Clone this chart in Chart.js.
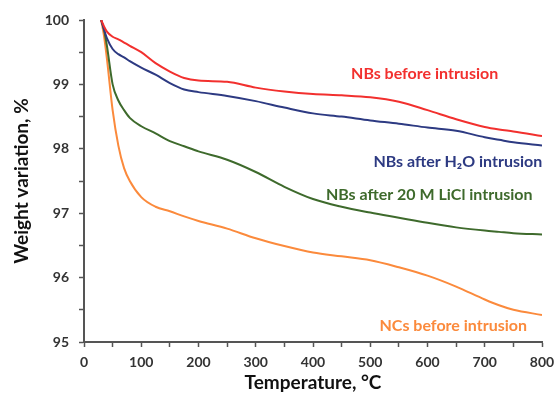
<!DOCTYPE html>
<html>
<head>
<meta charset="utf-8">
<script src="https://cdn.jsdelivr.net/npm/chart.js@4.4.0/dist/chart.umd.min.js"></script>
<style>
  html, body { margin: 0; padding: 0; background: #fff; }
  #wrap { width: 556px; height: 394px; }
</style>
</head>
<body>
<div id="wrap"><canvas id="tga"></canvas></div>
<script>
// temperature, °C
var temps = [30, 35, 40, 50, 60, 70, 80, 100, 125, 150, 175, 200, 250, 300, 350, 400, 450, 500, 550, 600, 650, 700, 725, 750, 800];

// weight variation, %
var nbsBefore = [100, 99.9, 99.82, 99.74, 99.7, 99.65, 99.6, 99.5, 99.33, 99.2, 99.1, 99.06, 99.04, 98.95, 98.89, 98.85, 98.83, 98.8, 98.73, 98.6, 98.46, 98.34, 98.3, 98.27, 98.2];
var nbsH2O = [100, 99.85, 99.72, 99.55, 99.47, 99.42, 99.36, 99.26, 99.15, 99.02, 98.92, 98.88, 98.82, 98.74, 98.64, 98.55, 98.5, 98.44, 98.39, 98.33, 98.28, 98.18, 98.14, 98.1, 98.05];
var nbsLiCl = [100, 99.85, 99.6, 99.0, 98.75, 98.6, 98.48, 98.35, 98.24, 98.12, 98.04, 97.96, 97.83, 97.64, 97.41, 97.22, 97.1, 97.01, 96.93, 96.85, 96.78, 96.73, 96.71, 96.69, 96.67];
var ncsBefore = [100, 99.75, 99.4, 98.6, 98.05, 97.7, 97.5, 97.25, 97.1, 97.03, 96.95, 96.88, 96.76, 96.61, 96.49, 96.39, 96.33, 96.27, 96.16, 96.03, 95.86, 95.66, 95.57, 95.5, 95.42];

var seriesNames = ["NBs before intrusion", "NBs after H\u2082O intrusion", "NBs after 20 M LiCl intrusion", "NCs before intrusion"];
var seriesColors = ["#f2302e", "#2d3a82", "#3e6a2c", "#fb8a3c"];

// where each series name sits, in data units (x = centre)
var labelX = [595, 653, 603, 645];
var labelY = [99.16, 97.8, 97.28, 95.25];

function pts(ys) {
  return temps.map(function (t, i) { return { x: t, y: ys[i] }; });
}

var curveLabels = {
  id: "curveLabels",
  afterDatasetsDraw: function (chart) {
    var c = chart.ctx;
    var sx = chart.scales.x, sy = chart.scales.y;
    c.save();
    c.font = "bold 16px Lato";
    c.textAlign = "center";
    c.textBaseline = "middle";
    seriesNames.forEach(function (name, i) {
      c.fillStyle = seriesColors[i];
      c.fillText(name, sx.getPixelForValue(labelX[i]), sy.getPixelForValue(labelY[i]));
    });
    c.restore();
  }
};

var ctx = document.getElementById("tga");

new Chart(ctx, {
  type: "line",
  data: {
    datasets: [
      { label: seriesNames[0], data: pts(nbsBefore), borderColor: seriesColors[0] },
      { label: seriesNames[1], data: pts(nbsH2O), borderColor: seriesColors[1] },
      { label: seriesNames[2], data: pts(nbsLiCl), borderColor: seriesColors[2] },
      { label: seriesNames[3], data: pts(ncsBefore), borderColor: seriesColors[3] }
    ]
  },
  options: {
    responsive: true,
    maintainAspectRatio: false,
    animation: false,
    layout: { padding: { left: 10, right: 14, top: 20, bottom: 0 } },
    elements: {
      line: { borderWidth: 2, tension: 0.4, cubicInterpolationMode: "monotone" },
      point: { radius: 0 }
    },
    plugins: {
      legend: { display: false },
      tooltip: { enabled: false }
    },
    scales: {
      x: {
        type: "linear",
        min: 0,
        max: 800,
        afterFit: function (s) { s.height = 52; s.paddingLeft = 0; s.paddingRight = 0; },
        grid: { drawOnChartArea: false, tickLength: 5, tickColor: "#555", tickWidth: 1.5 },
        border: { display: true, color: "#555", width: 2 },
        ticks: {
          stepSize: 50,
          autoSkip: false,
          maxRotation: 0,
          color: "#333",
          font: { family: "Lato", size: 14, weight: "bold" },
          padding: 7,
          callback: function (v) { return v % 100 === 0 ? v : ""; }
        },
        title: {
          display: true,
          text: "Temperature, \u00B0C",
          color: "#111",
          font: { family: "Lato", size: 19, weight: "bold" },
          padding: { top: 0, bottom: 0 }
        }
      },
      y: {
        min: 95,
        max: 100,
        afterFit: function (s) { s.width = 74; s.paddingTop = 0; s.paddingBottom = 0; },
        grid: { drawOnChartArea: false, tickLength: 5, tickColor: "#555", tickWidth: 1.5 },
        border: { display: true, color: "#555", width: 2 },
        ticks: {
          stepSize: 0.5,
          autoSkip: false,
          color: "#333",
          font: { family: "Lato", size: 14, weight: "bold" },
          padding: 10,
          callback: function (v) { return Number.isInteger(v) ? v : ""; }
        },
        title: {
          display: true,
          text: "Weight variation, %",
          color: "#111",
          font: { family: "Lato", size: 19, weight: "bold" },
          padding: { top: 0, bottom: 5 }
        }
      }
    }
  },
  plugins: [curveLabels]
});
</script>
</body>
</html>
